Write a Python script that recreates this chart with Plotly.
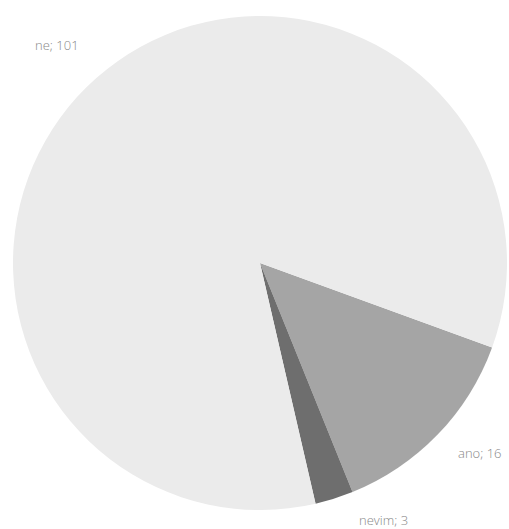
import plotly.graph_objects as go

labels = ["ano", "nevim", "ne"]
values = [16, 3, 101]
colors = ["#a5a5a5", "#6e6e6e", "#ebebeb"]

W, H = 509, 529
fig = go.Figure(go.Pie(
    labels=labels, values=values, sort=False, direction="clockwise",
    rotation=110, marker=dict(colors=colors, line=dict(width=0)),
    textinfo="none", hoverinfo="label+value",
    domain=dict(x=[13/W, 507/W], y=[1-510/H, 1-16/H]),
    showlegend=False,
))

label_pos = {"ne": (57, 45), "ano": (480, 453), "nevim": (383, 520)}
for lab, val in zip(labels, values):
    x, y = label_pos[lab]
    fig.add_annotation(x=x/W, y=1-y/H, xref="paper", yref="paper",
                       xanchor="center", yanchor="middle",
                       text=f"{lab}; {val}", showarrow=False,
                       font=dict(family="Open Sans", size=13, color="#888888", weight=300))

fig.update_layout(width=W, height=H, margin=dict(l=0, r=0, t=0, b=0),
                  paper_bgcolor="white", plot_bgcolor="white")
fig.write_html("out.html", config={"displayModeBar": False},
               post_script="document.body.style.margin='0';document.body.style.padding='0';document.body.style.overflow='hidden';")
